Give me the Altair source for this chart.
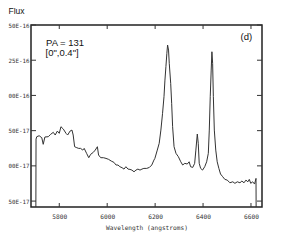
import altair as alt
import pandas as pd

# Spectrum: wavelength (Angstrom) and flux (units of 1e-17)
WAVELENGTH = [5702, 5703, 5706, 5716, 5727, 5733, 5740, 5754, 5764, 5775, 5783, 5792, 5800,
              5807, 5817, 5828, 5835, 5845, 5853, 5858, 5864, 5873, 5881, 5889, 5898, 5904,
              5914, 5923, 5931, 5942, 5950, 5959, 5964, 5973, 5984, 5995, 6006, 6017, 6028,
              6037, 6045, 6053, 6062, 6070, 6078, 6087, 6095, 6103, 6112, 6120, 6128, 6137,
              6145, 6153, 6165, 6176, 6186, 6195, 6199, 6209, 6217, 6224, 6231, 6237, 6241,
              6245, 6249, 6252, 6256, 6259, 6265, 6269, 6273, 6279, 6287, 6297, 6307, 6315,
              6324, 6334, 6342, 6348, 6357, 6365, 6370, 6376, 6380, 6384, 6390, 6398, 6407,
              6415, 6422, 6426, 6430, 6434, 6437, 6440, 6443, 6447, 6453, 6459, 6466, 6473,
              6482, 6491, 6501, 6512, 6524, 6533, 6543, 6554, 6562, 6571, 6579, 6587, 6593,
              6599, 6607, 6615, 6621, 6622]
FLUX = [0.0, 6.90, 7.07, 7.14, 7.00, 6.53, 7.05, 7.07, 7.24, 7.38, 7.19, 7.47, 7.31,
        7.78, 7.61, 7.31, 7.19, 7.47, 7.54, 7.19, 6.36, 6.29, 6.24, 6.24, 6.12, 6.24,
        5.89, 5.58, 5.82, 5.96, 6.12, 6.36, 5.77, 5.58, 5.58, 5.53, 5.46, 5.34, 5.25,
        5.06, 5.06, 4.94, 4.87, 4.77, 4.94, 4.77, 4.75, 4.70, 4.58, 4.70, 4.77, 4.70,
        4.77, 4.82, 4.82, 4.89, 5.06, 5.41, 5.53, 6.12, 6.60, 7.54, 8.73, 9.91, 11.09,
        12.04, 12.99, 13.58, 13.22, 12.28, 10.86, 9.44, 7.78, 6.36, 5.89, 5.65, 5.29, 5.06,
        5.18, 5.13, 5.29, 4.94, 4.89, 5.18, 6.12, 7.26, 6.60, 5.18, 4.82, 4.70, 4.94,
        5.29, 5.89, 7.54, 9.91, 11.80, 13.10, 12.28, 9.91, 7.54, 6.12, 5.29, 4.82, 4.42,
        4.23, 4.04, 3.99, 3.80, 3.87, 3.76, 3.87, 3.80, 3.92, 3.80, 3.99, 3.87, 4.04,
        3.76, 3.87, 3.71, 4.11, 0.0]

X_TICKS = [5800, 6000, 6200, 6400, 6600]
Y_TICKS = [2.5, 5.0, 7.5, 10.0, 12.5, 15.0]

X_DOMAIN = [5682, 6646]
Y_DOMAIN = [2.08, 15.0]

ANNOT_PA = "PA = 131"
ANNOT_RANGE = "[0\",0.4\"]"
ANNOT_PANEL = "(d)"

W, H = 231, 182
MONO = "DejaVu Sans Mono"
SANS = "Liberation Sans"

df = pd.DataFrame({"wl": WAVELENGTH, "flux": FLUX, "i": range(len(FLUX))})
xt = pd.DataFrame({"wl": X_TICKS})
yt = pd.DataFrame({"flux": Y_TICKS})

xs = alt.Scale(domain=X_DOMAIN, nice=False, zero=False)
ys = alt.Scale(domain=Y_DOMAIN, nice=False, zero=False)

x_axis = alt.Axis(values=X_TICKS, format="d", tickSize=0, domain=False, grid=False,
                  labelFont=MONO, labelFontSize=6.2, labelColor="#333333",
                  labelPadding=6, labelOverlap=False, title="Wavelength (angstroms)",
                  titleFont=MONO, titleFontSize=6.2, titleFontWeight="normal",
                  titleColor="#333333", titlePadding=5)
y_axis = alt.Axis(values=Y_TICKS, tickSize=0, domain=False, grid=False,
                  labelFont=MONO, labelFontSize=5.8, labelColor="#333333",
                  labelPadding=2, labelOverlap=False, labelSeparation=0,
                  labelExpr="upper(format(datum.value * 1e-17, '.2e'))",
                  title="Flux", titleAngle=0, titleAlign="left",
                  titleBaseline="alphabetic", titleX=-23, titleY=-12,
                  titleFont=SANS, titleFontSize=8.5, titleFontWeight="normal",
                  titleColor="#111111")

line = alt.Chart(df).mark_line(clip=True, color="#333333", strokeWidth=1).encode(
    x=alt.X("wl:Q", scale=xs, axis=x_axis),
    y=alt.Y("flux:Q", scale=ys, axis=y_axis),
    order="i:Q",
)

tick_color = "#333333"
bottom_ticks = alt.Chart(xt).mark_rule(color=tick_color, strokeWidth=1).encode(
    x=alt.X("wl:Q", scale=xs, axis=x_axis), y=alt.value(H), y2=alt.value(H - 4))
top_ticks = alt.Chart(xt).mark_rule(color=tick_color, strokeWidth=1).encode(
    x=alt.X("wl:Q", scale=xs, axis=x_axis), y=alt.value(0), y2=alt.value(4))
left_ticks = alt.Chart(yt).mark_rule(color=tick_color, strokeWidth=1).encode(
    y=alt.Y("flux:Q", scale=ys, axis=y_axis), x=alt.value(0), x2=alt.value(5))
right_ticks = alt.Chart(yt).mark_rule(color=tick_color, strokeWidth=1).encode(
    y=alt.Y("flux:Q", scale=ys, axis=y_axis), x=alt.value(W), x2=alt.value(W - 5))


def label(text, x, y):
    return alt.Chart(pd.DataFrame({"t": [text]})).mark_text(
        align="left", baseline="alphabetic", font=SANS, fontSize=9.5,
        color="#111111").encode(text="t:N", x=alt.value(x), y=alt.value(y))


ann1 = label(ANNOT_PA, 15, 21)
ann2 = label(ANNOT_RANGE, 14.5, 31)
ann3 = label(ANNOT_PANEL, 209.5, 15)

chart = alt.layer(line, bottom_ticks, top_ticks, left_ticks, right_ticks,
                  ann1, ann2, ann3).properties(
    width=W, height=H,
    autosize=alt.AutoSizeParams(type="none"),
    padding={"left": 23, "top": 17, "right": 20, "bottom": 30},
).configure_view(stroke="#222222", strokeWidth=1.5).configure_axis(labelOverlap=False)

chart.save("out.html", embed_options={"renderer": "svg", "actions": False})
